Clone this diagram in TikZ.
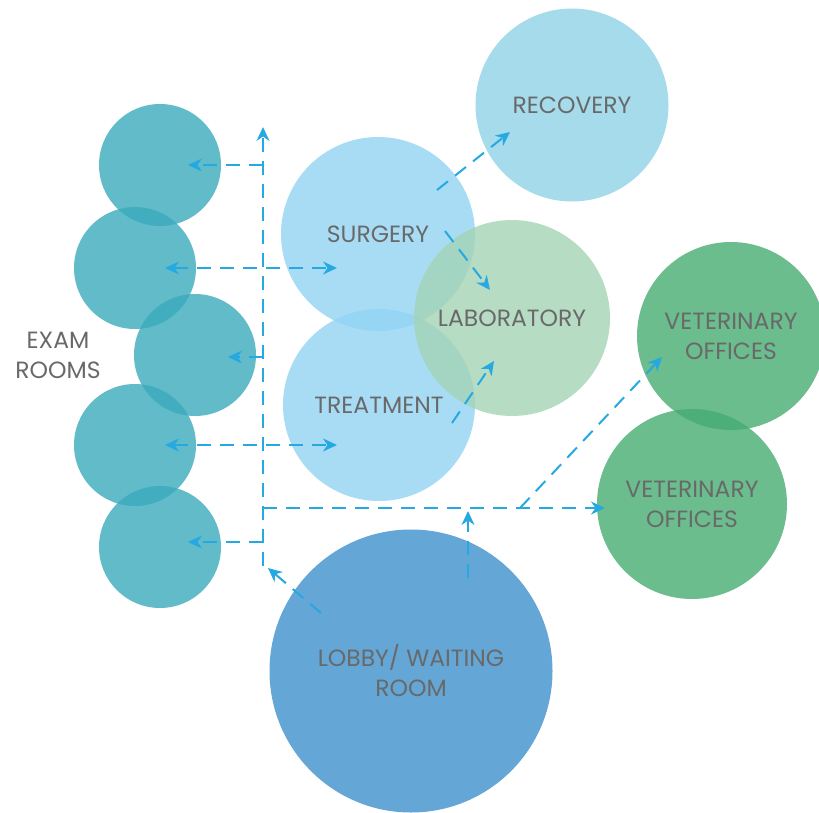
\documentclass[tikz,border=0pt]{standalone}
\usepackage{fontspec}
\setmainfont{Poppins}
\usetikzlibrary{arrows.meta,positioning}

\definecolor{examteal}{RGB}{58,170,188}
\definecolor{surgblue}{RGB}{146,211,243}
\definecolor{recblue}{RGB}{144,210,231}
\definecolor{labgreen}{RGB}{164,212,181}
\definecolor{vetgreen}{RGB}{70,172,114}
\definecolor{lobbyblue}{RGB}{100,166,214}
\definecolor{flowblue}{RGB}{38,169,224}
\definecolor{labelgray}{RGB}{105,105,105}

\tikzset{
  flowtip/.tip={Stealth[length=14pt,width=13pt,inset=4.5pt]},
  room/.style={circle, inner sep=0pt, fill opacity=0.8, text opacity=1,
    text=labelgray, font=\fontsize{23.5}{30}\selectfont, align=center},
  flow/.style={draw=flowblue, line width=2pt, dash pattern=on 14pt off 9pt, -flowtip},
  twoway/.style={flow, flowtip-flowtip},
}

\begin{document}
\begin{tikzpicture}[x=1pt,y=-1pt]
  \useasboundingbox (0,0) rectangle (819,813);
  % Exam rooms column
  \node[room, fill=examteal, minimum size=122pt] (exam1) at (160,165) {};
  \node[room, fill=examteal, minimum size=122pt] (exam2) at (135,268) {};
  \node[room, fill=examteal, minimum size=122pt] (exam3) at (195,355) {};
  \node[room, fill=examteal, minimum size=122pt] (exam4) at (135,445) {};
  \node[room, fill=examteal, minimum size=122pt] (exam5) at (160,547) {};
  \node[text=labelgray, font=\fontsize{23.5}{30}\selectfont, align=center] (examlbl) at (58,355) {EXAM\\ROOMS};
  % Clinical rooms
  \node[room, fill=recblue, minimum size=193pt] (recovery) at (572,105) {RECOVERY};
  \node[room, fill=surgblue, minimum size=194pt] (surgery) at (378,234) {SURGERY};
  \node[room, fill=surgblue, minimum size=192pt] (treatment) at (379,405) {TREATMENT};
  \node[room, fill=labgreen, minimum size=196pt] (lab) at (512,318) {LABORATORY};
  % Offices
  \node[room, fill=vetgreen, minimum size=188pt] (vet1) at (731,336) {VETERINARY\\OFFICES};
  \node[room, fill=vetgreen, minimum size=190pt] (vet2) at (692,504) {VETERINARY\\OFFICES};
  % Lobby
  \node[room, fill=lobbyblue, fill opacity=1, minimum size=283pt] (lobby) at (411,671) {LOBBY/ WAITING\\ROOM};

  % Corridor points
  \coordinate (ctop) at (263,127);
  \coordinate (cbot) at (263,566);
  \coordinate (j1) at (263,165);
  \coordinate (j3) at (263,357);
  \coordinate (j5) at (263,542);
  \coordinate (corner) at (263,508);
  \coordinate (fork) at (520,508);
  % Arrow ends
  \coordinate (e1tip) at (188,165);
  \coordinate (e2tip) at (165,268);
  \coordinate (s2tip) at (337,268);
  \coordinate (e3tip) at (228,357);
  \coordinate (e4tip) at (165,445);
  \coordinate (t4tip) at (337,445);
  \coordinate (e5tip) at (188,542);
  \coordinate (v1tip) at (662,357);
  \coordinate (v2tip) at (605,508);
  \coordinate (uptip) at (468,511);
  \coordinate (upfoot) at (468,578);
  \coordinate (lobout) at (321,613);
  \coordinate (cortip) at (268,568);
  \coordinate (surgout) at (437,190);
  \coordinate (rectip) at (510,132);
  \coordinate (surglab) at (445,231);
  \coordinate (labtip1) at (490,290);
  \coordinate (treatout) at (452,423);
  \coordinate (labtip2) at (494,361);

  % Main corridor
  \draw[flow] (cbot) -- (ctop);
  \draw[flow] (corner) -- (v2tip);
  % Branches to exam rooms
  \draw[flow] (j1) -- (e1tip);
  \draw[twoway] (e2tip) -- (s2tip);
  \draw[flow] (j3) -- (e3tip);
  \draw[twoway] (e4tip) -- (t4tip);
  \draw[flow] (j5) -- (e5tip);
  % From the lobby
  \draw[flow] (lobout) -- (cortip);
  \draw[flow] (upfoot) -- (uptip);
  \draw[flow] (fork) -- (v1tip);
  % Between clinical rooms
  \draw[flow] (surgout) -- (rectip);
  \draw[flow] (surglab) -- (labtip1);
  \draw[flow] (treatout) -- (labtip2);
\end{tikzpicture}
\end{document}
